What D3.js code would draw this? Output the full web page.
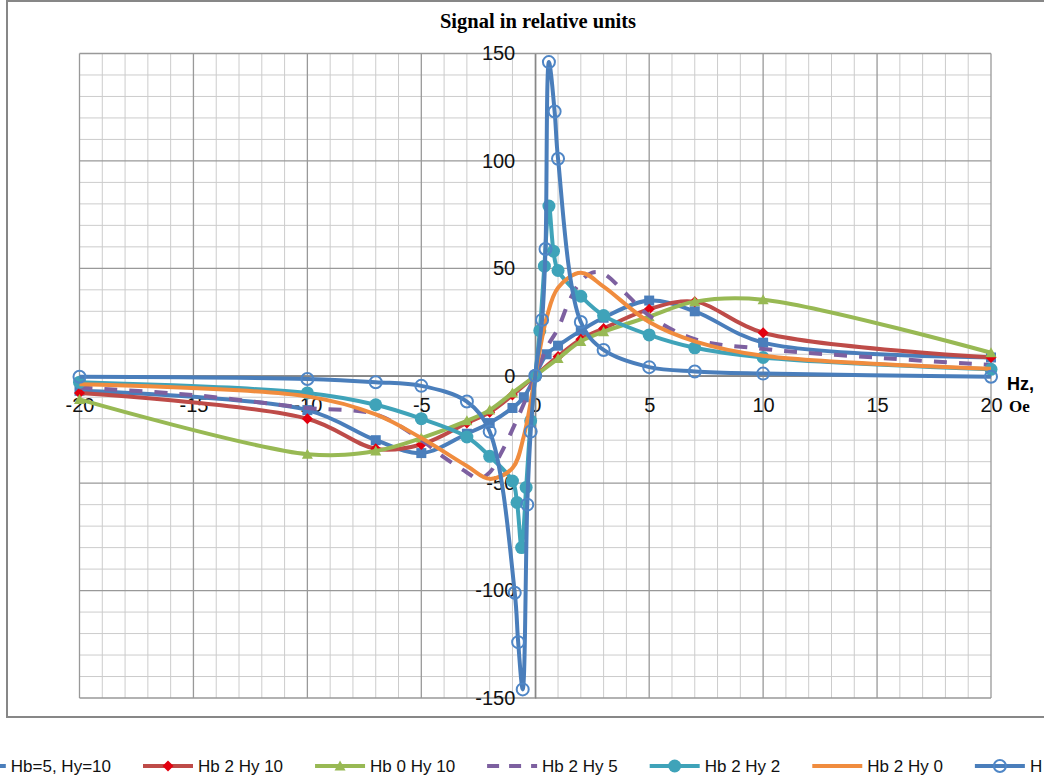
<!DOCTYPE html>
<html><head><meta charset="utf-8">
<script src="https://cdn.jsdelivr.net/npm/d3@7"></script>
<style>body{margin:0;background:#fff}svg{display:block}</style>
</head><body>
<svg id="chart" width="1044" height="783"></svg>
<script>
// ---------- data ----------
const seriesNames = ["Hb=5, Hy=10", "Hb 2 Hy 10", "Hb 0 Hy 10", "Hb 2 Hy 5", "Hb 2 Hy 2", "Hb 2 Hy 0", "H"];
const xTickValues = [-20, -15, -10, -5, 0, 5, 10, 15, 20];
const yTickValues = [-150, -100, -50, 0, 50, 100, 150];

const hb5hy10X = [-20, -10, -7, -5, -3, -2, -1, -0.5, 0, 0.5, 1, 2, 3, 5, 7, 10, 20];
const hb5hy10Y = [-7, -16, -30, -36, -27, -22, -15, -10, 0, 10, 14, 21, 27, 35, 30, 15.4, 8.5];

const hb2hy10X = [-20, -10, -7, -5, -3, -2, -1, 0, 1, 2, 3, 5, 7, 10, 20];
const hb2hy10Y = [-8, -20, -34, -32, -22, -17, -9, 0, 9, 17, 22, 31, 34.5, 20, 8.5];

const hb0hy10X = [-20, -10, -7, -5, -3, -2, -1, 0, 1, 2, 3, 5, 7, 10, 20];
const hb0hy10Y = [-11, -36.5, -35, -29, -21, -16, -8, 0, 8, 16, 20.5, 27.5, 34.5, 35.4, 10.7];

const hb2hy5X = [-20, -15, -10, -7, -5, -4, -3, -2.5, -2, -1.5, -1, -0.5, 0, 0.5, 1, 1.5, 2, 2.5, 3, 4, 5, 7, 10, 15, 20];
const hb2hy5Y = [-5.5, -9, -15, -18, -30, -38, -45, -48, -45, -36, -25, -13, 0, 13, 22, 35, 44, 48, 47.5, 38, 28, 17, 12.5, 8.4, 5];

const hb2hy2X = [-20, -10, -7, -5, -3, -2, -1, -0.8, -0.6, -0.4, -0.2, 0, 0.2, 0.4, 0.6, 0.8, 1, 2, 3, 5, 7, 10, 20];
const hb2hy2Y = [-3, -8, -13.5, -20, -28.5, -37.5, -49, -59, -80, -52, -21, 0, 21, 51, 79, 58, 49, 37, 28, 19, 13, 8.5, 3];

const hb2hy0X = [-20, -10, -7, -5, -3, -2, -1, -0.5, 0, 0.5, 1, 2, 3, 5, 7, 10, 20];
const hb2hy0Y = [-4, -9.6, -18, -29, -42, -48, -43, -28, 0, 27, 41, 48, 41.5, 25, 16, 9.3, 3.3];

const hX = [-20, -10, -7, -5, -3, -2, -0.9, -0.75, -0.55, -0.35, -0.2, 0, 0.3, 0.45, 0.6, 0.85, 1, 2, 3, 5, 7, 10, 20];
const hY = [-0.5, -1.5, -3, -4.7, -12, -26, -101, -124, -146, -60, -26, 0, 26, 59, 146, 123, 101, 25, 12, 4, 2, 1, -0.5];

// ---------- layout ----------
const svg = d3.select("#chart");
const W = 1044, H = 783;
const x = d3.scaleLinear().domain([-20, 20]).range([79.5, 991]);
const y = d3.scaleLinear().domain([-150, 150]).range([698, 53.5]);

svg.append("rect").attr("width", W).attr("height", H).attr("fill", "#fff");
// chart border
svg.append("rect").attr("x", 7).attr("y", 1).attr("width", W + 20).attr("height", 716)
  .attr("fill", "none").attr("stroke", "#878787").attr("stroke-width", 2);

// gridlines
const g = svg.append("g");
const minorX = d3.range(-20, 21, 1), minorY = d3.range(-150, 151, 10);
g.selectAll(".mx").data(minorX.filter(v => v % 5 !== 0)).enter().append("line")
  .attr("x1", d => x(d)).attr("x2", d => x(d)).attr("y1", y(150)).attr("y2", y(-150))
  .attr("stroke", "#cccccc").attr("stroke-width", 1);
g.selectAll(".my").data(minorY.filter(v => v % 50 !== 0)).enter().append("line")
  .attr("y1", d => y(d)).attr("y2", d => y(d)).attr("x1", x(-20)).attr("x2", x(20))
  .attr("stroke", "#cccccc").attr("stroke-width", 1);
g.selectAll(".Mx").data(xTickValues).enter().append("line")
  .attr("x1", d => x(d)).attr("x2", d => x(d)).attr("y1", y(150)).attr("y2", y(-150))
  .attr("stroke", "#999999").attr("stroke-width", 1.3);
g.selectAll(".My").data(yTickValues).enter().append("line")
  .attr("y1", d => y(d)).attr("y2", d => y(d)).attr("x1", x(-20)).attr("x2", x(20))
  .attr("stroke", "#999999").attr("stroke-width", 1.3);

// axes
const fontTick = "'Liberation Sans', Arial, sans-serif";
const xAxis = svg.append("g").attr("transform", `translate(0,${y(0)})`)
  .call(d3.axisBottom(x).tickValues(xTickValues).tickSize(0).tickPadding(22).tickFormat(d3.format("d")));
const yAxis = svg.append("g").attr("transform", `translate(${x(0)},0)`)
  .call(d3.axisLeft(y).tickValues(yTickValues).tickSize(0).tickPadding(20).tickFormat(d3.format("d")));
[xAxis, yAxis].forEach(a => {
  a.select(".domain").attr("stroke", "#868686").attr("stroke-width", 1.3);
  a.selectAll("text").attr("font-family", fontTick).attr("font-size", 20).attr("fill", "#111");
});
xAxis.selectAll("text").text(d => d.toString().replace("\u2212", "-"));
yAxis.selectAll("text").text(d => d.toString().replace("\u2212", "-"));

// title
svg.append("text").attr("x", 538).attr("y", 28).attr("text-anchor", "middle")
  .attr("font-family", "'Liberation Serif', 'Times New Roman', serif").attr("font-weight", "bold")
  .attr("font-size", 20.5).attr("fill", "#000").text("Signal in relative units");

// axis title
svg.append("text").attr("x", 1007).attr("y", 390).attr("font-family", fontTick)
  .attr("font-weight", "bold").attr("font-size", 18).attr("fill", "#000").text("Hz,");
svg.append("text").attr("x", 1009).attr("y", 412).attr("font-family", "'Liberation Serif', serif")
  .attr("font-weight", "bold").attr("font-size", 17).attr("fill", "#000").text("Oe");

// ---------- series ----------
const series = [
  {name: seriesNames[0], xs: hb5hy10X, ys: hb5hy10Y, color: "#4A7EBB", marker: "square", mcolor: "#4A7EBB"},
  {name: seriesNames[1], xs: hb2hy10X, ys: hb2hy10Y, color: "#BE4B48", marker: "diamond", mcolor: "#E3000F"},
  {name: seriesNames[2], xs: hb0hy10X, ys: hb0hy10Y, color: "#98B954", marker: "triangle", mcolor: "#98B954"},
  {name: seriesNames[3], xs: hb2hy5X, ys: hb2hy5Y, color: "#7D60A0", marker: null, dash: "13,12"},
  {name: seriesNames[4], xs: hb2hy2X, ys: hb2hy2Y, color: "#3FA3B9", marker: "circle", mcolor: "#3FA3B9"},
  {name: seriesNames[5], xs: hb2hy0X, ys: hb2hy0Y, color: "#F08C3E", marker: null},
  {name: seriesNames[6], xs: hX, ys: hY, color: "#4A7EBB", marker: "open", mcolor: "#4F86C6"}
];

function drawMarker(sel, type, color) {
  if (type === "square") {
    sel.append("rect").attr("x", -5).attr("y", -5).attr("width", 10).attr("height", 10).attr("fill", color);
  } else if (type === "diamond") {
    sel.append("path").attr("d", "M0,-5.5L5.5,0L0,5.5L-5.5,0Z").attr("fill", color);
  } else if (type === "triangle") {
    sel.append("path").attr("d", "M0,-5.5L5.5,4.5L-5.5,4.5Z").attr("fill", color);
  } else if (type === "circle") {
    sel.append("circle").attr("r", 6.5).attr("fill", color);
  } else if (type === "open") {
    sel.append("circle").attr("r", 6).attr("fill", "none").attr("stroke", color).attr("stroke-width", 2);
  }
}

const line = d3.line().x(d => x(d[0])).y(d => y(d[1])).curve(d3.curveCatmullRom.alpha(0.5));
const plot = svg.append("g");
series.forEach(s => {
  const pts = s.xs.map((v, i) => [v, s.ys[i]]);
  const gs = plot.append("g");
  gs.append("path").datum(pts).attr("d", line).attr("fill", "none")
    .attr("stroke", s.color).attr("stroke-width", 4).attr("stroke-linejoin", "round")
    .attr("stroke-dasharray", s.dash || null);
  if (s.marker) {
    gs.selectAll(".m").data(pts).enter().append("g")
      .attr("transform", d => `translate(${x(d[0])},${y(d[1])})`)
      .each(function () { drawMarker(d3.select(this), s.marker, s.mcolor); });
  }
});

// ---------- legend ----------
const legY = 766;
const leg = svg.append("g");
const fontLeg = "'Liberation Sans', Arial, sans-serif";
const items = [];
series.forEach((s, i) => {
  const it = leg.append("g");
  const tx = it.append("text").attr("font-family", fontLeg).attr("font-size", 17).attr("fill", "#111")
    .attr("dominant-baseline", "central").attr("y", legY).text(s.name);
  items.push({s, it, tx, w: tx.node().getComputedTextLength()});
});
function placeItem(o, lineStart) {
  const s = o.s;
  o.it.insert("line", "text").attr("x1", lineStart).attr("x2", lineStart + 50).attr("y1", legY).attr("y2", legY)
    .attr("stroke", s.color).attr("stroke-width", 4).attr("stroke-dasharray", s.dash ? "12,10" : null);
  if (s.marker) {
    const m = o.it.append("g").attr("transform", `translate(${lineStart + 25},${legY})`);
    drawMarker(m, s.marker, s.mcolor);
  }
  o.tx.attr("x", lineStart + 55);
  return lineStart + 55 + o.w + 32;
}
const first = items[0];
placeItem(first, 143 - 32 - first.w - 55);
let cursor = 143;
for (let i = 1; i < items.length; i++) cursor = placeItem(items[i], cursor);
</script>
</body></html>
